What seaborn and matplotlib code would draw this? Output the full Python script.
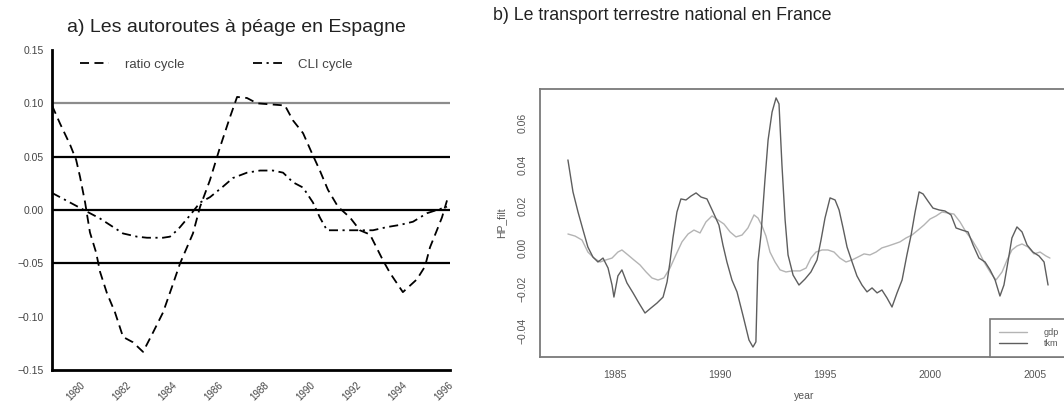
import matplotlib
matplotlib.use("Agg")
import matplotlib.pyplot as plt
import seaborn as sns

# ---------------- a) Les autoroutes à péage en Espagne ----------------
ratio_years = [1978.78, 1979.13, 1979.57, 1979.83, 1980.00, 1980.22, 1980.43, 1980.70,
               1980.87, 1981.17, 1981.52, 1981.87, 1982.30, 1982.74, 1983.17, 1983.61,
               1984.00, 1984.35, 1984.65, 1984.91, 1985.22, 1985.65, 1986.09, 1986.52,
               1986.83, 1987.26, 1987.70, 1988.30, 1988.91, 1989.26, 1989.70, 1990.09,
               1990.43, 1990.78, 1991.22, 1991.74, 1992.17, 1992.61, 1993.17, 1993.48,
               1994.04, 1994.65, 1995.00, 1995.22, 1995.52, 1995.74, 1995.96]
ratio_cycle = [0.098, 0.081, 0.061, 0.047, 0.031, 0.007, -0.021, -0.040,
               -0.058, -0.078, -0.096, -0.119, -0.124, -0.133, -0.115, -0.096,
               -0.072, -0.050, -0.035, -0.022, 0.003, 0.028, 0.059, 0.087,
               0.106, 0.105, 0.100, 0.099, 0.098, 0.084, 0.072, 0.053,
               0.037, 0.019, 0.003, -0.007, -0.019, -0.023, -0.047, -0.059,
               -0.077, -0.065, -0.053, -0.035, -0.019, -0.007, 0.009]

cli_years = [1978.78, 1979.22, 1980.43, 1980.87, 1981.30, 1981.87, 1982.48, 1982.91,
             1983.61, 1983.91, 1984.22, 1984.35, 1984.78, 1985.22, 1985.65, 1986.22,
             1986.65, 1987.26, 1987.83, 1988.39, 1988.83, 1989.26, 1989.70, 1990.13,
             1990.43, 1990.74, 1991.61, 1992.17, 1992.74, 1993.35, 1993.91, 1994.48,
             1995.09, 1995.52, 1995.96]
cli_cycle = [0.016, 0.011, -0.003, -0.008, -0.014, -0.022, -0.025, -0.026,
             -0.026, -0.025, -0.019, -0.016, -0.005, 0.007, 0.012, 0.022,
             0.030, 0.035, 0.037, 0.037, 0.035, 0.026, 0.021, 0.007,
             -0.007, -0.019, -0.019, -0.019, -0.019, -0.016, -0.014, -0.011,
             -0.003, 0.000, 0.003]

a_tick_years = [1980, 1982, 1984, 1986, 1988, 1990, 1992, 1994, 1996]
a_tick_labels = ["1980", "1982", "1984", "1986", "1988", "1990", "1992", "1994", "1996"]
a_y_ticks = [0.15, 0.10, 0.05, 0.00, -0.05, -0.10, -0.15]
a_ref_levels = [0.10, 0.05, 0.00, -0.05]

# ---------------- b) Le transport terrestre national en France ----------------
tkm_years = [1982.76, 1983.00, 1983.24, 1983.48, 1983.71, 1983.95, 1984.19, 1984.43,
             1984.67, 1984.86, 1984.95, 1985.14, 1985.33, 1985.57, 1985.86, 1986.14,
             1986.43, 1986.71, 1987.00, 1987.29, 1987.48, 1987.62, 1987.76, 1987.95,
             1988.14, 1988.38, 1988.62, 1988.86, 1989.10, 1989.38, 1989.67, 1989.95,
             1990.14, 1990.33, 1990.57, 1990.81, 1991.10, 1991.38, 1991.57, 1991.71,
             1991.76, 1991.81, 1991.95, 1992.14, 1992.29, 1992.48, 1992.67, 1992.81,
             1992.95, 1993.10, 1993.24, 1993.48, 1993.76, 1994.05, 1994.33, 1994.62,
             1994.81, 1995.00, 1995.24, 1995.48, 1995.67, 1995.86, 1996.05, 1996.29,
             1996.52, 1996.76, 1997.00, 1997.24, 1997.48, 1997.71, 1997.95, 1998.19,
             1998.43, 1998.67, 1998.90, 1999.10, 1999.29, 1999.48, 1999.67, 1999.90,
             2000.14, 2000.43, 2000.71, 2001.00, 2001.24, 2001.52, 2001.81, 2002.05,
             2002.33, 2002.62, 2002.86, 2003.10, 2003.33, 2003.52, 2003.71, 2003.90,
             2004.14, 2004.38, 2004.62, 2004.90, 2005.19, 2005.43, 2005.62]
tkm_cycle = [0.0422, 0.0268, 0.0171, 0.0084, 0.0002, -0.0046, -0.0070, -0.0051,
             -0.0099, -0.0181, -0.0239, -0.0137, -0.0108, -0.0171, -0.0219, -0.0268,
             -0.0316, -0.0292, -0.0268, -0.0239, -0.0166, -0.0070, 0.0046, 0.0171,
             0.0234, 0.0229, 0.0248, 0.0263, 0.0243, 0.0234, 0.0171, 0.0108,
             0.0012, -0.0070, -0.0157, -0.0214, -0.0330, -0.0446, -0.0480, -0.0455,
             -0.0253, -0.0070, 0.0060, 0.0325, 0.0518, 0.0653, 0.0721, 0.0692,
             0.0398, 0.0133, -0.0036, -0.0133, -0.0181, -0.0152, -0.0118, -0.0060,
             0.0036, 0.0142, 0.0239, 0.0229, 0.0181, 0.0094, 0.0002, -0.0070,
             -0.0137, -0.0181, -0.0214, -0.0195, -0.0219, -0.0205, -0.0243, -0.0287,
             -0.0219, -0.0157, -0.0036, 0.0060, 0.0171, 0.0268, 0.0258, 0.0224,
             0.0190, 0.0181, 0.0176, 0.0157, 0.0094, 0.0084, 0.0075, 0.0012,
             -0.0051, -0.0070, -0.0108, -0.0157, -0.0234, -0.0181, -0.0070, 0.0046,
             0.0099, 0.0075, 0.0012, -0.0022, -0.0041, -0.0070, -0.0181]

gdp_years = [1982.76, 1983.10, 1983.43, 1983.71, 1984.00, 1984.29, 1984.57, 1984.86,
             1985.14, 1985.33, 1985.62, 1985.90, 1986.19, 1986.48, 1986.76, 1987.05,
             1987.33, 1987.62, 1987.90, 1988.19, 1988.48, 1988.76, 1989.05, 1989.33,
             1989.62, 1989.90, 1990.19, 1990.48, 1990.76, 1991.05, 1991.33, 1991.62,
             1991.81, 1992.00, 1992.19, 1992.38, 1992.62, 1992.86, 1993.14, 1993.43,
             1993.81, 1994.10, 1994.33, 1994.57, 1994.86, 1995.14, 1995.43, 1995.71,
             1996.00, 1996.29, 1996.57, 1996.86, 1997.14, 1997.43, 1997.71, 1998.00,
             1998.29, 1998.57, 1998.86, 1999.14, 1999.43, 1999.71, 2000.00, 2000.29,
             2000.57, 2000.86, 2001.14, 2001.43, 2001.71, 2002.00, 2002.29, 2002.57,
             2002.86, 2003.14, 2003.43, 2003.67, 2003.90, 2004.14, 2004.38, 2004.67,
             2004.95, 2005.24, 2005.52, 2005.71]
gdp_cycle = [0.0065, 0.0055, 0.0036, -0.0022, -0.0051, -0.0070, -0.0060, -0.0051,
             -0.0022, -0.0012, -0.0036, -0.0060, -0.0084, -0.0118, -0.0147, -0.0157,
             -0.0147, -0.0099, -0.0036, 0.0027, 0.0065, 0.0084, 0.0070, 0.0123,
             0.0152, 0.0133, 0.0113, 0.0075, 0.0051, 0.0060, 0.0094, 0.0157,
             0.0142, 0.0104, 0.0055, -0.0022, -0.0070, -0.0108, -0.0118, -0.0113,
             -0.0113, -0.0099, -0.0051, -0.0022, -0.0012, -0.0012, -0.0022, -0.0051,
             -0.0070, -0.0060, -0.0046, -0.0031, -0.0036, -0.0022, -0.0002, 0.0007,
             0.0017, 0.0027, 0.0046, 0.0060, 0.0084, 0.0108, 0.0137, 0.0152,
             0.0171, 0.0166, 0.0161, 0.0123, 0.0075, 0.0036, -0.0012, -0.0070,
             -0.0118, -0.0157, -0.0118, -0.0060, -0.0012, 0.0007, 0.0017, 0.0002,
             -0.0031, -0.0022, -0.0041, -0.0051]

b_x_ticks = [1985, 1990, 1995, 2000, 2005]
b_y_ticks = [0.06, 0.04, 0.02, 0.00, -0.02, -0.04]

# ---------------- figure ----------------
sns.set_style("white")
plt.rcParams["font.family"] = ["Liberation Sans", "DejaVu Sans"]
plt.rcParams["axes.unicode_minus"] = True

W, H = 1064, 407
fig = plt.figure(figsize=(W / 100, H / 100), dpi=100)
fig.patch.set_facecolor("white")


def box(l, t, r, b):
    return [l / W, 1 - b / H, (r - l) / W, (b - t) / H]


# ----- panel a -----
ax = fig.add_axes(box(52, 50, 450, 370))
for lvl in a_ref_levels:
    ax.axhline(lvl, color="#8c8c8c" if lvl == 0.10 else "black", lw=1.6, zorder=1)

sns.lineplot(x=ratio_years, y=ratio_cycle, ax=ax, color="black", lw=1.3,
             linestyle=(0, (5, 3)), label="ratio cycle", zorder=3)
sns.lineplot(x=cli_years, y=cli_cycle, ax=ax, color="black", lw=1.3,
             linestyle=(0, (5, 2.5, 1.2, 2.5)), label="CLI cycle", zorder=3)

ax.set_xlim(1978.78, 1996.09)
ax.set_ylim(-0.15, 0.15)
ax.set_yticks(a_y_ticks)
ax.set_yticklabels([f"{v:.2f}".replace("-", "\u2212") for v in a_y_ticks])
ax.set_xticks(a_tick_years)
ax.set_xticklabels(a_tick_labels, rotation=45, ha="right", rotation_mode="anchor")
ax.tick_params(axis="y", length=0, pad=6, labelsize=7.5, labelcolor="#444444")
ax.tick_params(axis="x", direction="in", length=10, width=1.6, pad=7,
               labelsize=7, labelcolor="#444444", color="black")
for yr, tick in zip(a_tick_years, ax.xaxis.get_major_ticks()):
    if yr in (1982, 1984, 1988):
        tick.tick1line.set_visible(False)
    elif yr in (1992, 1994):
        tick.tick1line.set_color("#8c8c8c")
for side in ("top", "right"):
    ax.spines[side].set_visible(False)
for side in ("left", "bottom"):
    ax.spines[side].set_color("black")
    ax.spines[side].set_linewidth(2.0)
ax.set_xlabel("")
ax.set_ylabel("")
ax.legend(loc="upper left", bbox_to_anchor=(0.04, 1.01), ncol=2, frameon=False,
          fontsize=9.5, handlelength=2.2, handletextpad=1.2, columnspacing=5.2,
          labelcolor="#444444")
fig.text(236 / W, 1 - 28 / H, "a) Les autoroutes à péage en Espagne",
         ha="center", va="center", fontsize=14, color="#222222")

# ----- panel b -----
bx = fig.add_axes(box(540, 89, 1068, 357))
sns.lineplot(x=gdp_years, y=gdp_cycle, ax=bx, color="#b4b4b4", lw=1.0, label="gdp")
sns.lineplot(x=tkm_years, y=tkm_cycle, ax=bx, color="#5e5e5e", lw=1.0, label="tkm")
bx.set_xlim(1981.43, 2006.57)
bx.set_ylim(-0.0528, 0.0764)
bx.set_xticks(b_x_ticks)
bx.set_yticks(b_y_ticks)
bx.set_yticklabels([f"{v:.2f}".replace("-", "\u2212") for v in b_y_ticks],
                   rotation=90, va="center")
bx.tick_params(axis="both", direction="out", length=5, width=1.0, color="#777777",
               labelsize=7.5, labelcolor="#555555", pad=4)
for side in bx.spines.values():
    side.set_visible(True)
    side.set_color("#7a7a7a")
    side.set_linewidth(1.3)
bx.set_xlabel("year", fontsize=7.5, color="#555555", labelpad=8)
bx.set_ylabel("HP_filt", fontsize=7.5, color="#555555", labelpad=8)
leg = bx.legend(loc="lower right", borderaxespad=0, fancybox=False, fontsize=6.5,
                handlelength=3.2, handletextpad=1.8, borderpad=1.0, labelspacing=0.2,
                edgecolor="#7a7a7a", framealpha=1, labelcolor="#555555")
leg.get_frame().set_linewidth(1.2)
fig.text(493 / W, 1 - 15 / H, "b) Le transport terrestre national en France",
         ha="left", va="center", fontsize=12.8, color="#222222")

fig.savefig("out.png", dpi=100, facecolor="white")
